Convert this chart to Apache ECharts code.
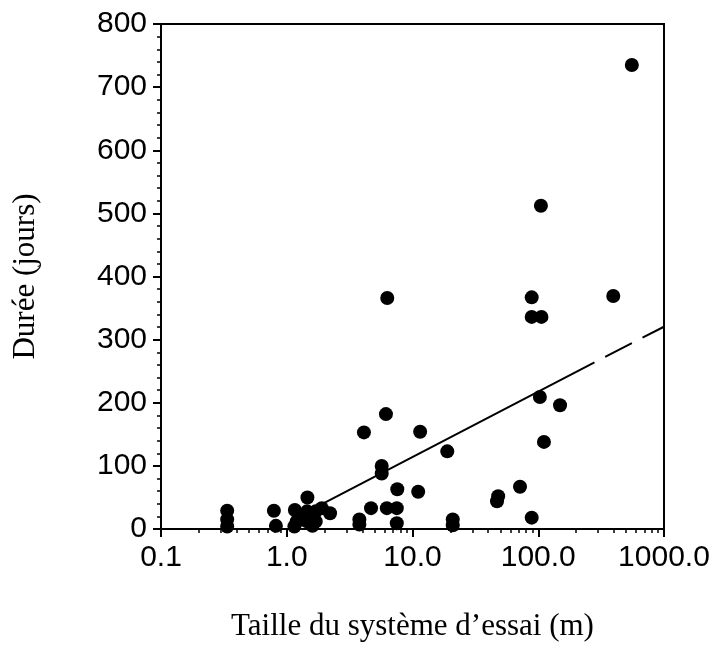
<!DOCTYPE html>
<html>
<head>
<meta charset="utf-8">
<script src="https://cdn.jsdelivr.net/npm/echarts@6/dist/echarts.min.js"></script>
<style>
html,body{margin:0;padding:0;background:#fff;}
#chart{width:717px;height:658px;}
</style>
</head>
<body>
<div id="chart"></div>
<script>
// Taille du système d'essai (m)
var sizes = [555, 105, 6.3, 88.7, 88.7, 106, 395, 103, 149, 111,
             6.15, 4.11, 11.5, 18.9, 5.69, 5.69, 7.57, 11.1, 4.68, 6.25,
             7.5, 3.78, 3.78, 7.5, 20.9, 20.9, 47, 48, 71.6, 88.7,
             0.336, 0.336, 0.336, 0.79, 0.82, 1.46, 1.16, 2.21, 1.45, 1.7,
             1.2, 1.45, 1.7, 1.15, 1.9, 1.3, 1.6];
// Durée (jours)
var durations = [735, 512, 366, 367, 336, 336, 369, 209, 196, 138,
                 182, 153, 154, 123, 100, 88, 63, 59, 33, 33,
                 33, 15, 7, 9, 15, 6, 44, 52, 67, 18,
                 29, 15, 4, 29, 5, 50, 30, 25, 28, 28,
                 12, 12, 12, 4, 33, 20, 5];
// regression line (solid part, dashed part)
var fitSolid = [[1.84, 38], [280, 264]];
var fitDashed = [[280, 264], [990, 320]];
var xTickLabels = ['0.1', '1.0', '10.0', '100.0', '1000.0'];
var xMinorTicks = [0.2,0.3,0.4,0.5,0.6,0.7,0.8,0.9,
                   2,3,4,5,6,7,8,9,
                   20,30,40,50,60,70,80,90,
                   200,300,400,500,600,700,800,900];
var yMin = 0, yMax = 800, yInterval = 100;

var points = sizes.map(function (s, i) { return [s, durations[i]]; });

var chart = echarts.init(document.getElementById('chart'));
chart.setOption({
  animation: false,
  backgroundColor: '#fff',
  grid: {left: 161, right: 53, top: 24, bottom: 129, show: true,
         borderColor: '#000', borderWidth: 2, backgroundColor: 'transparent'},
  xAxis: [{
    type: 'log', logBase: 10, min: 0.1, max: 1000, position: 'bottom',
    name: 'Taille du système d\u2019essai (m)', nameLocation: 'middle', nameGap: 82,
    nameTextStyle: {fontFamily: 'Liberation Serif', fontSize: 31, color: '#000'},
    axisLine: {lineStyle: {color: '#000', width: 2}},
    axisTick: {length: 8, lineStyle: {color: '#000', width: 2}},
    axisLabel: {margin: 14, color: '#000', fontFamily: 'Liberation Sans', fontSize: 30,
      formatter: function (v, idx) { return xTickLabels[idx]; }},
    splitLine: {show: false}
  }, {
    type: 'log', logBase: 10, min: 0.1, max: 1000, position: 'bottom',
    axisLine: {show: false},
    axisTick: {show: true, length: 4, customValues: xMinorTicks, lineStyle: {color: '#000', width: 1.5}},
    axisLabel: {show: false},
    splitLine: {show: false}
  }],
  yAxis: {
    type: 'value', min: yMin, max: yMax, interval: yInterval,
    name: 'Durée (jours)', nameLocation: 'middle', nameGap: 120, nameRotate: 90,
    nameTextStyle: {fontFamily: 'Liberation Serif', fontSize: 31, color: '#000'},
    axisLine: {show: true, lineStyle: {color: '#000', width: 2}},
    axisTick: {show: true, length: 8, lineStyle: {color: '#000', width: 2}},
    minorTick: {show: true, splitNumber: 5, length: 4, lineStyle: {color: '#000', width: 1.5}},
    axisLabel: {margin: 14, color: '#000', fontFamily: 'Liberation Sans', fontSize: 30},
    splitLine: {show: false}
  },
  series: [{
    type: 'scatter', data: points, symbolSize: 14,
    itemStyle: {color: '#000', opacity: 1}
  }, {
    type: 'line', data: fitSolid, showSymbol: false, symbol: 'none',
    lineStyle: {color: '#000', width: 2}
  }, {
    type: 'line', data: fitDashed, showSymbol: false, symbol: 'none',
    lineStyle: {color: '#000', width: 2, type: [30, 12], dashOffset: 30}
  }]
});
</script>
</body>
</html>
